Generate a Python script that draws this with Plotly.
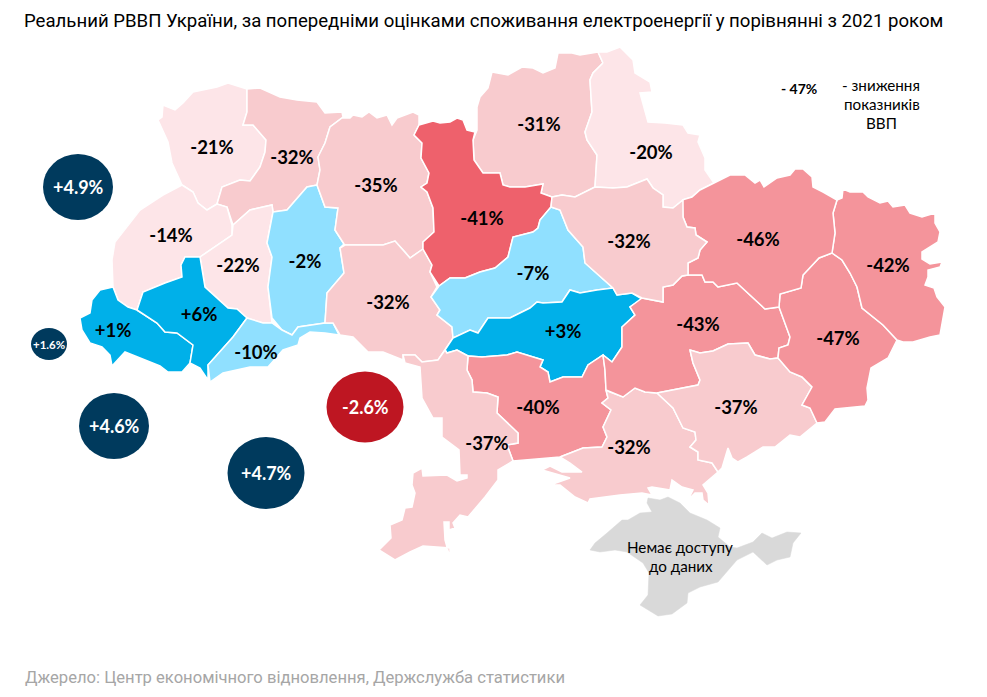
#!/usr/bin/env python3

import plotly.graph_objects as go

TITLE = ('Реальний РВВП України, за попередніми оцінками споживання '
         'електроенергії у порівнянні з 2021 роком')
SOURCE = 'Джерело: Центр економічного відновлення, Держслужба статистики'

# Region outlines
volyn = [(247, 89), (228, 83), (217, 87), (193, 92), (183, 103), (175, 110), (163, 105), (162, 117), (158, 120),
         (168, 142), (172, 163), (182, 185), (193, 192), (198, 203), (207, 210), (217, 204), (222, 187), (240, 180),
         (250, 181), (260, 167), (265, 152), (266, 140), (253, 125), (243, 125), (247, 112)]
rivne = [(247, 89), (260, 88), (280, 97), (297, 100), (317, 102), (325, 113), (342, 112), (343, 117), (330, 127),
         (325, 143), (318, 157), (320, 170), (317, 185), (307, 187), (287, 210), (273, 212), (272, 205), (250, 210),
         (233, 225), (227, 207), (217, 204), (222, 187), (240, 180), (250, 181), (260, 167), (265, 152), (266, 140),
         (253, 125), (243, 125), (247, 112)]
lviv = [(182, 185), (163, 195), (140, 210), (115, 242), (112, 260), (113, 287), (118, 300), (128, 307), (137, 310),
        (143, 292), (165, 283), (182, 277), (181, 265), (185, 257), (200, 257), (232, 235), (232, 225), (227, 207),
        (217, 204), (207, 210), (198, 203), (193, 192)]
ternopil = [(200, 257), (232, 235), (233, 225), (250, 210), (272, 205), (273, 212), (267, 243), (272, 257),
            (268, 287), (272, 318), (272, 323), (263, 323), (247, 318), (237, 309), (228, 308), (205, 287)]
khmelnytskyi = [(273, 212), (287, 210), (307, 187), (317, 185), (325, 207), (338, 208), (335, 230), (344, 244),
                (340, 248), (344, 273), (327, 293), (325, 323), (298, 327), (292, 335), (282, 330), (272, 318),
                (268, 287), (272, 257), (267, 243)]
zakarpattia = [(113, 287), (100, 290), (92, 300), (90, 313), (80, 318), (82, 330), (90, 343), (102, 347), (110, 355),
               (112, 366), (125, 352), (137, 357), (152, 363), (160, 366), (168, 372), (182, 372), (190, 363), (193, 345),
               (177, 333), (165, 332), (157, 323), (137, 310), (128, 307), (118, 300)]
frankivsk = [(137, 310), (143, 292), (165, 283), (182, 277), (181, 265), (185, 257), (200, 257), (205, 287),
             (228, 308), (237, 309), (247, 318), (233, 337), (208, 365), (208, 380), (200, 368), (190, 363),
             (193, 345), (177, 333), (165, 332), (157, 323)]
chernivtsi = [(247, 318), (263, 323), (272, 323), (282, 330), (292, 335), (298, 327), (325, 323), (333, 323),
              (339, 335), (325, 333), (310, 332), (300, 338), (298, 345), (283, 350), (268, 367), (250, 367),
              (223, 373), (210, 382), (208, 365), (233, 337)]
zhytomyr = [(342, 118), (350, 118), (353, 115), (362, 117), (369, 112), (377, 118), (387, 115), (392, 125), (397, 118),
            (413, 112), (419, 115), (419, 125), (414, 135), (422, 143), (421, 158), (429, 173), (427, 183), (421, 187),
            (427, 192), (433, 208), (434, 232), (423, 242), (423, 249), (410, 258), (405, 252), (395, 241), (383, 245),
            (345, 245), (344, 244), (335, 230), (338, 208), (325, 207), (317, 185), (320, 170), (318, 157), (325, 143),
            (330, 127)]
vinnytsia = [(345, 245), (383, 245), (395, 241), (405, 252), (410, 258), (423, 249), (432, 265), (430, 272), (437, 287),
             (431, 297), (440, 310), (437, 315), (452, 327), (453, 338), (445, 350), (438, 360), (422, 362), (415, 355),
             (403, 355), (403, 360), (383, 352), (368, 352), (353, 337), (340, 335), (333, 323), (325, 323), (327, 293),
             (344, 273), (340, 248)]
chernihiv = [(603, 63), (598, 52), (580, 55), (572, 53), (558, 53), (555, 68), (543, 73), (533, 68), (522, 67),
             (508, 75), (492, 72), (488, 88), (480, 97), (477, 107), (477, 130), (473, 140), (474, 160), (483, 173),
             (500, 173), (503, 185), (510, 187), (525, 187), (543, 184), (541, 193), (552, 197), (562, 195), (575, 197),
             (595, 187), (597, 155), (587, 140), (585, 132), (592, 112), (590, 80), (593, 73)]
sumy = [(603, 63), (598, 52), (607, 52), (620, 47), (633, 60), (635, 73), (650, 82), (652, 92), (640, 93), (648, 122),
        (665, 123), (683, 125), (688, 133), (700, 135), (698, 142), (705, 158), (705, 170), (714, 183), (700, 190),
        (692, 197), (683, 200), (673, 208), (663, 207), (663, 195), (653, 188), (647, 179), (627, 187), (613, 188),
        (595, 187), (597, 155), (587, 140), (585, 132), (592, 112), (590, 80), (593, 73)]
kyiv = [(414, 135), (419, 125), (433, 121), (440, 123), (450, 122), (457, 118), (463, 120), (467, 130), (475, 132),
        (473, 140), (474, 160), (483, 173), (500, 173), (503, 185), (510, 187), (525, 187), (543, 184), (541, 193),
        (552, 197), (551, 207), (540, 220), (538, 228), (533, 232), (513, 237), (508, 257), (495, 268), (480, 272),
        (465, 278), (450, 278), (439, 286), (430, 272), (432, 265), (423, 249), (423, 242), (434, 232), (433, 208),
        (427, 192), (421, 187), (427, 183), (429, 173), (421, 158), (422, 143)]
cherkasy = [(551, 207), (560, 210), (568, 230), (583, 247), (585, 263), (613, 288), (597, 290), (580, 293), (570, 290),
            (562, 302), (543, 303), (537, 302), (530, 308), (510, 318), (488, 318), (482, 327), (478, 333), (470, 330),
            (453, 338), (452, 327), (437, 315), (440, 310), (431, 297), (439, 286), (450, 278), (465, 278), (480, 272),
            (495, 268), (508, 257), (513, 237), (533, 232), (538, 228), (540, 220)]
kirovohrad = [(445, 350), (453, 338), (470, 330), (478, 333), (482, 327), (488, 318), (510, 318), (530, 308), (537, 302),
              (543, 303), (562, 302), (570, 290), (580, 293), (597, 290), (613, 288), (617, 295), (632, 293), (642, 299),
              (630, 307), (635, 315), (622, 327), (622, 347), (612, 362), (603, 355), (588, 365), (582, 377), (563, 377),
              (550, 382), (548, 372), (540, 367), (543, 360), (517, 352), (507, 355), (482, 357), (468, 356), (457, 350),
              (447, 353)]
mykolaiv = [(468, 356), (482, 357), (507, 355), (517, 352), (543, 360), (540, 367), (548, 372), (550, 382), (563, 377),
            (582, 377), (588, 365), (603, 355), (605, 370), (606, 390), (608, 398), (602, 403), (611, 410), (603, 427),
            (607, 437), (602, 447), (583, 448), (560, 457), (513, 461), (507, 445), (518, 443), (518, 433), (497, 413),
            (498, 397), (487, 393), (473, 392), (472, 380), (467, 370)]
odesa = [(445, 350), (438, 360), (422, 362), (415, 355), (403, 355), (405, 363), (420, 367), (422, 398), (433, 418),
         (442, 418), (442, 437), (459, 450), (460, 475), (467, 475), (467, 478), (457, 481), (447, 475), (423, 476),
         (422, 468), (413, 473), (412, 485), (415, 493), (412, 507), (405, 508), (402, 520), (390, 525), (391, 538),
         (379, 550), (395, 560), (410, 552), (423, 546), (450, 548), (450, 558), (445, 540), (444, 522), (449, 522),
         (449, 530), (455, 528), (453, 523), (460, 515), (468, 517), (485, 497), (498, 480), (498, 470), (513, 461),
         (507, 445), (518, 443), (518, 433), (497, 413), (498, 397), (487, 393), (473, 392), (472, 380), (467, 370),
         (468, 356), (457, 350), (447, 353)]
kherson = [(606, 390), (610, 392), (623, 397), (635, 388), (645, 392), (657, 393), (673, 408), (683, 428), (695, 432),
           (696, 440), (690, 447), (698, 452), (698, 460), (712, 463), (718, 472), (703, 485), (708, 493), (709, 505),
           (703, 500), (702, 493), (695, 493), (688, 500), (693, 490), (682, 487), (672, 480), (670, 490), (652, 487),
           (648, 488), (652, 495), (642, 493), (620, 495), (590, 499), (588, 503), (575, 497), (560, 485), (550, 485),
           (570, 478), (542, 470), (550, 466), (562, 472), (582, 472), (570, 463), (560, 457), (583, 448), (602, 447),
           (607, 437), (603, 427), (611, 410), (602, 403), (608, 398)]
dnipro = [(642, 298), (663, 302), (663, 287), (673, 285), (682, 276), (688, 275), (702, 275), (705, 282), (713, 282),
          (718, 287), (737, 283), (752, 297), (765, 309), (779, 307), (790, 337), (788, 345), (779, 348), (778, 358),
          (770, 359), (755, 355), (748, 343), (728, 344), (713, 351), (700, 353), (690, 350), (693, 363), (700, 380),
          (698, 385), (673, 390), (657, 393), (645, 392), (635, 388), (623, 397), (610, 392), (606, 390), (605, 370),
          (603, 355), (612, 362), (622, 347), (622, 327), (635, 315), (630, 307)]
zaporizhzhia = [(690, 350), (700, 353), (713, 351), (728, 344), (748, 343), (755, 355), (770, 359), (778, 358), (790, 372),
                (802, 377), (812, 387), (802, 405), (810, 408), (817, 423), (800, 437), (790, 435), (775, 447), (763, 447),
                (747, 457), (738, 462), (732, 458), (728, 448), (722, 468), (718, 472), (712, 463), (698, 460), (698, 452),
                (690, 447), (696, 440), (695, 432), (683, 428), (673, 408), (657, 393), (673, 390), (698, 385), (700, 380),
                (693, 363)]
donetsk = [(832, 253), (819, 258), (803, 275), (801, 288), (780, 294), (779, 307), (790, 337), (788, 345), (779, 348),
           (778, 358), (790, 372), (802, 377), (812, 387), (802, 405), (810, 408), (817, 423), (825, 422), (835, 409),
           (865, 406), (868, 400), (867, 388), (871, 368), (888, 358), (897, 340), (883, 325), (862, 308), (857, 287),
           (850, 273), (842, 260)]
luhansk = [(837, 200), (842, 198), (843, 189), (850, 192), (863, 192), (868, 197), (880, 203), (888, 201), (893, 207),
           (905, 205), (910, 213), (922, 217), (935, 213), (935, 223), (940, 232), (938, 242), (922, 252), (922, 259),
           (930, 264), (942, 262), (940, 267), (928, 270), (928, 277), (925, 285), (934, 288), (937, 297), (945, 307),
           (940, 335), (930, 337), (913, 342), (903, 342), (897, 340), (883, 325), (862, 308), (857, 287), (850, 273),
           (842, 260), (832, 253), (835, 233), (833, 213)]
kharkiv = [(682, 200), (692, 197), (700, 190), (714, 183), (730, 175), (745, 175), (755, 183), (760, 180), (764, 187),
           (777, 178), (790, 175), (795, 169), (803, 169), (812, 177), (813, 187), (823, 192), (837, 200), (833, 213),
           (835, 233), (832, 253), (819, 258), (803, 275), (801, 288), (780, 294), (779, 307), (765, 309), (752, 297),
           (737, 283), (718, 287), (713, 282), (705, 282), (702, 275), (688, 275), (688, 263), (698, 258), (700, 250),
           (707, 242), (696, 235), (695, 228), (687, 227), (683, 217)]
poltava = [(552, 197), (562, 195), (575, 197), (595, 187), (613, 188), (627, 187), (647, 179), (653, 188), (663, 195),
           (663, 207), (673, 208), (683, 200), (683, 217), (687, 227), (695, 228), (696, 235), (707, 242), (700, 250),
           (698, 258), (688, 263), (688, 275), (682, 276), (673, 285), (663, 287), (663, 302), (642, 298), (632, 293),
           (617, 295), (613, 288), (585, 263), (583, 247), (568, 230), (560, 210), (551, 207)]
crimea = [(648, 498), (647, 503), (652, 512), (640, 513), (628, 520), (622, 520), (607, 533), (595, 543), (590, 550),
          (600, 552), (615, 550), (627, 552), (643, 563), (649, 573), (648, 595), (640, 605), (658, 616), (672, 614),
          (687, 603), (688, 593), (700, 587), (718, 582), (737, 560), (753, 552), (767, 565), (777, 560), (790, 557),
          (793, 543), (801, 533), (787, 532), (772, 538), (762, 533), (753, 542), (737, 548), (730, 547), (718, 537),
          (720, 528), (707, 520), (690, 513), (680, 503), (668, 497), (660, 500)]

# name order below is shared by outlines, labels, anchors and colour groups
outlines = [volyn, rivne, lviv, ternopil, khmelnytskyi, zakarpattia, frankivsk, chernivtsi, zhytomyr, vinnytsia,
            chernihiv, sumy, kyiv, cherkasy, kirovohrad, mykolaiv, odesa, kherson, dnipro, zaporizhzhia, donetsk,
            luhansk, kharkiv, poltava]
region_labels = ['-21%', '-32%', '-14%', '-22%', '-2%', '+1%', '+6%', '-10%', '-35%', '-32%',
                 '-31%', '-20%', '-41%', '-7%', '+3%', '-40%', '-37%', '-32%', '-43%', '-37%', '-47%',
                 '-42%', '-46%', '-32%']
label_x = [212, 292, 171, 238, 305, 113, 199, 256, 376, 388, 539, 651, 482, 533, 563, 538, 487, 629, 698, 736, 838, 888, 758, 629]
label_y = [149, 159, 237, 267, 263, 332, 316, 354, 187, 304, 126, 154, 220, 275, 333, 409, 445, 449, 326, 409, 340, 267, 241, 243]
groups = ['pale', 'rose', 'pale', 'pale', 'sky', 'blue', 'blue', 'sky', 'rose', 'rose',
          'rose', 'pale', 'red', 'sky', 'blue', 'salmon', 'rose', 'rose', 'salmon', 'rose', 'salmon',
          'salmon', 'salmon', 'rose']

bubble_labels = ['+4.9%', '+1.6%', '+4.6%', '+4.7%', '-2.6%']
bubble_x = [78, 49, 114, 266, 365]
bubble_y = [187, 344, 426, 473, 407]
bubble_w = [70, 36, 70, 77, 77]
bubble_h = [66, 32, 66, 72, 71]
bubble_colors = ['#003A5D', '#003A5D', '#003A5D', '#003A5D', '#BE1622']
bubble_font = [18, 11.5, 18, 18, 18]

COLORS = {
    'pale': '#FDE5E8',
    'rose': '#F8CBCE',
    'salmon': '#F4949B',
    'red': '#EE616C',
    'sky': '#90E0FF',
    'blue': '#00B0E9',
}
LABEL_FONT = 'Lato, "Noto Sans", sans-serif'

fig = go.Figure()

for outline, group in zip(outlines, groups):
    fig.add_trace(go.Scatter(
        x=[p[0] for p in outline] + [outline[0][0]],
        y=[p[1] for p in outline] + [outline[0][1]],
        mode='lines',
        fill='toself',
        fillcolor=COLORS[group],
        line=dict(color='white', width=1.5),
        hoverinfo='skip',
    ))

fig.add_trace(go.Scatter(
    x=[p[0] for p in crimea] + [crimea[0][0]],
    y=[p[1] for p in crimea] + [crimea[0][1]],
    mode='lines',
    fill='toself',
    fillcolor='#D9D9D9',
    line=dict(color='#D9D9D9', width=0.5),
    hoverinfo='skip',
))

fig.add_trace(go.Scatter(
    x=label_x, y=label_y, text=region_labels,
    mode='text',
    textposition='middle center',
    textfont=dict(family=LABEL_FONT, size=18.5, color='black', weight='bold'),
    hoverinfo='skip',
))

for bx, by, bw, bh, color in zip(bubble_x, bubble_y, bubble_w, bubble_h, bubble_colors):
    fig.add_shape(type='circle', xref='x', yref='y',
                  x0=bx - bw / 2, x1=bx + bw / 2,
                  y0=by - bh / 2, y1=by + bh / 2,
                  fillcolor=color, line_width=0, layer='above')

for label, bx, by, size in zip(bubble_labels, bubble_x, bubble_y, bubble_font):
    fig.add_annotation(x=bx, y=by, text=label, showarrow=False,
                       font=dict(family=LABEL_FONT, size=size, color='white', weight='bold'))

# Crimea note and the small legend at top right
for text, x, y in [('Немає доступу', 680, 547), ('до даних', 681, 566),
                   ('- зниження', 881, 85), ('показників', 882, 104), ('ВВП', 881, 123)]:
    fig.add_annotation(x=x, y=y, text=text, showarrow=False,
                       font=dict(family=LABEL_FONT, size=15.2, color='black'))
fig.add_annotation(x=799, y=88, text='- 47%', showarrow=False,
                   font=dict(family=LABEL_FONT, size=14, color='black', weight='bold'))

fig.add_annotation(x=22, y=21, text=TITLE, showarrow=False, xanchor='left',
                   font=dict(family='Roboto', size=18.6, color='black'))
fig.add_annotation(x=23, y=677, text=SOURCE, showarrow=False, xanchor='left',
                   font=dict(family='Roboto', size=16.6, color='#A6A6A6'))

fig.update_layout(
    width=987,
    height=697,
    margin=dict(l=0, r=0, t=0, b=0),
    showlegend=False,
    plot_bgcolor='white',
    paper_bgcolor='white',
    xaxis=dict(range=[0, 987], visible=False, fixedrange=True),
    yaxis=dict(range=[697, 0], visible=False, fixedrange=True),
)

fig.write_html('out.html', post_script="document.body.style.margin='0';",
               config=dict(displayModeBar=False))
